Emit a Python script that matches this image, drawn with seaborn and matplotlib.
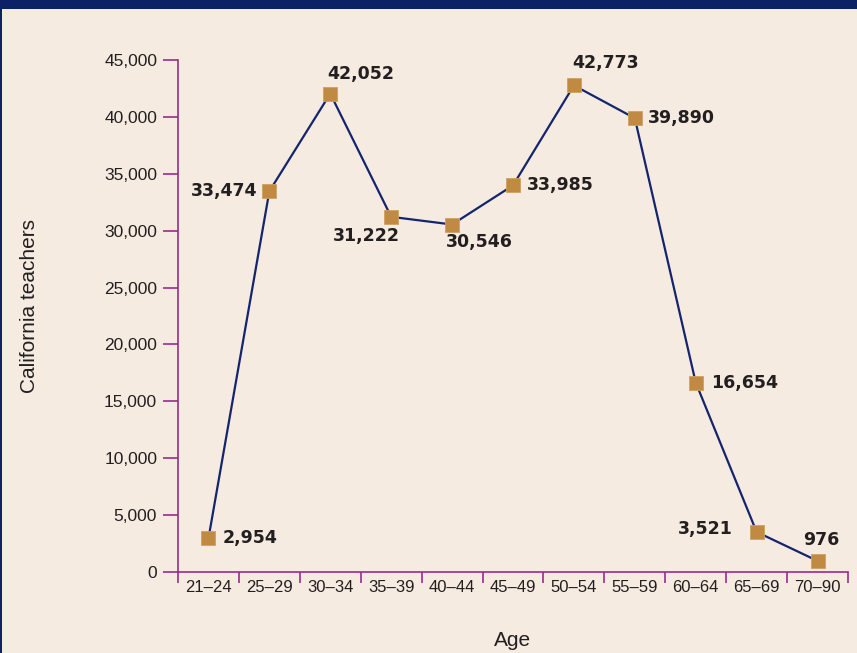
import numpy as np
import pandas as pd
import matplotlib
matplotlib.use("Agg")
import matplotlib.pyplot as plt
import seaborn as sns
from matplotlib.patches import Rectangle

# Data
age_groups = ['21–24', '25–29', '30–34', '35–39', '40–44', '45–49',
              '50–54', '55–59', '60–64', '65–69', '70–90']
teachers = [2954, 33474, 42052, 31222, 30546, 33985, 42773, 39890, 16654, 3521, 976]
y_ticks = [0, 5000, 10000, 15000, 20000, 25000, 30000, 35000, 40000, 45000]

# label placement per point (dx, dy in pixels, ha)
label_pos = [
    (14, 0, 'left'),
    (-12, 0, 'right'),
    (30, 20, 'center'),
    (-25, -19, 'center'),
    (27, -17, 'center'),
    (14, 0, 'left'),
    (32, 22, 'center'),
    (13, 0, 'left'),
    (15, 0, 'left'),
    (-51, 3, 'center'),
    (4, 21, 'center'),
]

bg = '#f5ebe0'
navy = '#14256e'
purple = '#9a2a8c'
gold = '#c08a42'
txt = '#231f20'

sns.set_style("white")
plt.rcParams['font.family'] = ['Liberation Sans', 'DejaVu Sans']

df = pd.DataFrame({'pos': np.arange(len(age_groups)), 'teachers': teachers})

fig = plt.figure(figsize=(8.57, 6.53), dpi=100)
fig.patch.set_facecolor(bg)
ax = fig.add_axes([0.2077, 0.124, 0.9895 - 0.2077, 0.784])
ax.set_facecolor(bg)

sns.lineplot(data=df, x='pos', y='teachers', ax=ax, color=navy, linewidth=1.6,
             marker='s', markersize=10, markerfacecolor=gold,
             markeredgecolor='#d0a060', markeredgewidth=0.6)

for i, v in enumerate(teachers):
    dx, dy, ha = label_pos[i]
    ax.annotate(f"{v:,}", (i, v), xytext=(dx, dy), textcoords='offset pixels',
                ha=ha, va='center', fontsize=12.5, fontweight='bold', color=txt,
                family='DejaVu Sans')

ax.set_xlim(-0.5, len(age_groups) - 0.5)
ax.set_ylim(0, 45000)
ax.set_yticks(y_ticks)
ax.set_yticklabels([f"{t:,}" for t in y_ticks])
ax.set_xticks(np.arange(len(age_groups) + 1) - 0.5)
ax.set_xticklabels([])
ax.set_xticks(np.arange(len(age_groups)), minor=True)
ax.set_xticklabels(age_groups, minor=True)

for s in ['top', 'right']:
    ax.spines[s].set_visible(False)
for s in ['left', 'bottom']:
    ax.spines[s].set_color(purple)
    ax.spines[s].set_linewidth(1.2)

ax.tick_params(axis='y', which='major', direction='out', length=11, width=1.2,
               color=purple, labelsize=12.5, labelcolor=txt, pad=4, left=True)
ax.tick_params(axis='x', which='major', direction='out', length=8, width=1.2,
               color=purple, bottom=True)
ax.tick_params(axis='x', which='minor', length=0, labelsize=12, labelcolor=txt, pad=6)

ax.set_xlabel('Age', fontsize=15, color=txt)
ax.set_ylabel('California teachers', fontsize=15, color=txt)
ax.xaxis.set_label_coords(0.5, -0.133)
ax.yaxis.set_label_coords(-0.221, 0.52)
ax.xaxis.label.set(va='center', ha='center')
ax.yaxis.label.set(va='center', ha='center')
ax.grid(False)

# navy band at top and left border
fig.patches.append(Rectangle((0, 1 - 9 / 653), 1, 9 / 653, transform=fig.transFigure,
                             facecolor='#0c2266', edgecolor='none'))
fig.patches.append(Rectangle((0, 0), 2 / 857, 1, transform=fig.transFigure,
                             facecolor='#0c2266', edgecolor='none'))

fig.savefig('out.png', dpi=100, facecolor=bg)
